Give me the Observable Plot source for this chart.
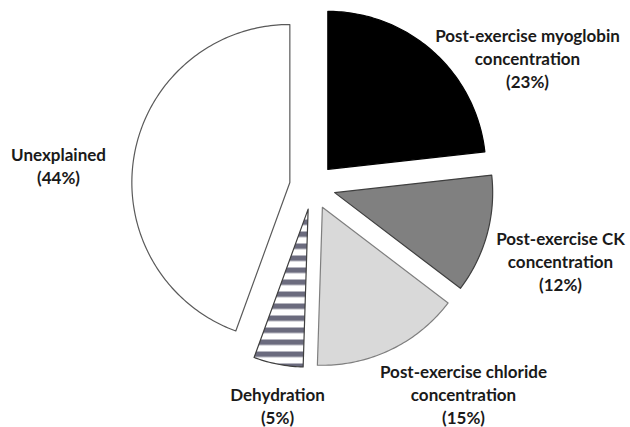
<!DOCTYPE html>
<html>
<head>
<meta charset="utf-8">
<script src="https://cdn.jsdelivr.net/npm/d3@7"></script>
<script src="https://cdn.jsdelivr.net/npm/@observablehq/plot@0.6"></script>
<style>
  html, body { margin: 0; padding: 0; background: #fff; }
  #chart { width: 630px; height: 427px; }
</style>
</head>
<body>
<div id="chart"></div>
<script>
// ---- data ----
const categories = [
  "Post-exercise myoglobin concentration",
  "Post-exercise CK concentration",
  "Post-exercise chloride concentration",
  "Dehydration",
  "Unexplained"
];
const shares = [23, 12, 15, 5, 44];
const labels = [
  "Post-exercise myoglobin\nconcentration\n(23%)",
  "Post-exercise CK\nconcentration\n(12%)",
  "Post-exercise chloride\nconcentration\n(15%)",
  "Dehydration\n(5%)",
  "Unexplained\n(44%)"
];

// ---- layout / style ----
const W = 630, H = 427;
const CX = 312, CY = 186, R = 158, EXPLODE = 23;
const fills = ["#000000", "#808080", "#d9d9d9", "url(#stripes)", "#ffffff"];
const strokes = ["#000000", "#3f3f3f", "#7f7f7f", "#3f3f3f", "#5a5a5a"];
const labelPos = [[527, 57], [560, 260], [463, 393], [277, 405], [58, 165]];

const total = d3.sum(shares);
const deg = Math.PI / 180;
const pts = [];
let acc = 0;
categories.forEach((name, i) => {
  const a0 = acc / total * 2 * Math.PI;
  acc += shares[i];
  const a1 = acc / total * 2 * Math.PI;
  const mid = (a0 + a1) / 2;
  const ox = CX + EXPLODE * Math.sin(mid);
  const oy = CY - EXPLODE * Math.cos(mid);
  pts.push({name, x: ox, y: oy});
  const n = Math.max(2, Math.ceil((a1 - a0) / deg));
  for (let k = 0; k <= n; k++) {
    const a = a0 + (a1 - a0) * k / n;
    pts.push({name, x: ox + R * Math.sin(a), y: oy - R * Math.cos(a)});
  }
});

const labelData = labels.map((t, i) => ({t, x: labelPos[i][0], y: labelPos[i][1]}));

const marks = [
  Plot.line(pts, {x: "x", y: "y", z: "name", fill: "name", stroke: null, curve: "linear-closed"})
];
categories.forEach((name, i) => {
  marks.push(Plot.line(pts.filter(p => p.name === name), {
    x: "x", y: "y", stroke: strokes[i], strokeWidth: 1.2, fill: "none", curve: "linear-closed"
  }));
});
marks.push(Plot.text(labelData, {
  x: "x", y: "y", text: "t", textAnchor: "middle", lineHeight: 1.35,
  fontSize: 17, fontWeight: "bold", fill: "#1a1a1a"
}));

const chart = Plot.plot({
  width: W, height: H,
  margin: 0,
  x: {domain: [0, W], axis: null},
  y: {domain: [H, 0], axis: null},
  color: {domain: categories, range: fills},
  style: {fontFamily: "Lato, 'Open Sans', sans-serif", background: "#fff"},
  marks
});

const svg = d3.select(chart);
const defs = svg.insert("defs", ":first-child");
const pat = defs.append("pattern")
  .attr("id", "stripes")
  .attr("patternUnits", "userSpaceOnUse")
  .attr("x", 0).attr("y", 3)
  .attr("width", 12).attr("height", 12);
pat.append("rect").attr("width", 12).attr("height", 12).attr("fill", "#ffffff");
pat.append("rect").attr("y", 0).attr("width", 12).attr("height", 5.5).attr("fill", "#6b6b7e");

document.getElementById("chart").appendChild(chart);
</script>
</body>
</html>
